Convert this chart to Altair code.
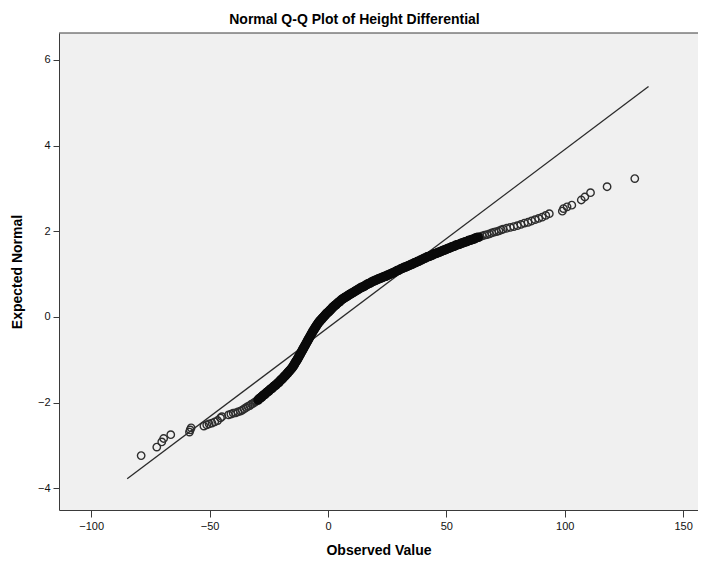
import altair as alt
import pandas as pd

# ---- data ----
lower_obs = [-78.9, -72.3, -70.2, -69.4, -66.4, -58.5, -58.2, -57.8, -52.4, -51.2, -50.2,
             -49.0, -47.8, -46.6, -45.4, -44.8, -42.0, -41.0, -40.0, -39.0, -38.0]
lower_exp = [-3.24, -3.04, -2.92, -2.84, -2.75, -2.69, -2.64, -2.59, -2.55, -2.52, -2.50,
             -2.48, -2.45, -2.42, -2.36, -2.33, -2.29, -2.27, -2.25, -2.24, -2.22]

segA_obs = [-37.0, -36.2, -35.4, -34.6, -33.8, -33.0, -32.3, -31.6, -30.9, -30.2]
segA_exp = [-2.20, -2.18, -2.15, -2.12, -2.09, -2.07, -2.04, -2.02, -1.99, -1.97]

segB_obs = [-29.5, -29.0, -28.5, -28.0, -27.5, -27.0, -26.5, -26.0, -25.5, -25.0,
            -24.5, -24.0, -23.5, -23.0, -22.5, -22.0, -21.5, -21.0]
segB_exp = [-1.94, -1.91, -1.89, -1.87, -1.84, -1.82, -1.80, -1.77, -1.75, -1.73,
            -1.70, -1.68, -1.66, -1.63, -1.61, -1.59, -1.56, -1.54]

segC_obs = [-20.6, -20.2, -19.8, -19.4, -19.0, -18.6, -18.2, -17.8, -17.4, -17.0, -16.6,
            -16.2, -15.8, -15.4, -15.0, -14.7, -14.4, -14.1, -13.8, -13.5, -13.2]
segC_exp = [-1.52, -1.49, -1.47, -1.45, -1.43, -1.40, -1.38, -1.36, -1.33, -1.31, -1.28,
            -1.26, -1.23, -1.21, -1.18, -1.15, -1.13, -1.10, -1.07, -1.04, -1.02]

segD_obs = [-12.9, -12.6, -12.3, -12.0, -11.7, -11.4, -11.1, -10.8, -10.5, -10.2,
            -9.9, -9.6, -9.3, -9.0, -8.7, -8.4, -8.1, -7.8, -7.5, -7.2,
            -6.9, -6.6, -6.3, -6.0, -5.7, -5.4, -5.1, -4.8, -4.5, -4.2,
            -3.9, -3.6, -3.3, -3.0]
segD_exp = [-0.99, -0.96, -0.93, -0.90, -0.87, -0.84, -0.81, -0.78, -0.75, -0.72,
            -0.69, -0.66, -0.63, -0.60, -0.57, -0.54, -0.51, -0.48, -0.45, -0.42,
            -0.39, -0.36, -0.33, -0.31, -0.28, -0.25, -0.23, -0.20, -0.18, -0.15,
            -0.13, -0.11, -0.09, -0.07]

segE_obs = [-2.6, -2.2, -1.8, -1.4, -1.0, -0.6, -0.2, 0.2, 0.6, 1.0, 1.4, 1.8, 2.2, 2.6, 3.0,
            3.5, 4.0, 4.5, 5.0, 5.5, 6.0, 6.5, 7.0, 7.5, 8.0, 8.5, 9.0, 9.5, 10.0]
segE_exp = [-0.05, -0.02, 0.00, 0.03, 0.05, 0.08, 0.10, 0.11, 0.14, 0.16, 0.18, 0.21, 0.23, 0.25, 0.27,
            0.29, 0.32, 0.34, 0.36, 0.39, 0.41, 0.43, 0.45, 0.46, 0.48, 0.50, 0.52, 0.53, 0.55]

segF_obs = [10.6, 11.2, 11.8, 12.4, 13.0, 13.6, 14.2, 14.8, 15.4, 16.0, 16.6,
            17.2, 17.8, 18.4, 19.0, 19.6, 20.2, 20.8, 21.4, 22.0, 22.6, 23.2,
            23.8, 24.4, 25.0, 25.6, 26.2, 26.8, 27.4, 28.0, 28.6, 29.2, 29.8]
segF_exp = [0.57, 0.59, 0.61, 0.63, 0.65, 0.67, 0.69, 0.70, 0.72, 0.74, 0.76,
            0.78, 0.79, 0.81, 0.83, 0.84, 0.86, 0.87, 0.89, 0.90, 0.91, 0.93,
            0.94, 0.95, 0.97, 0.98, 1.00, 1.01, 1.03, 1.04, 1.06, 1.08, 1.09]

segG_obs = [30.5, 31.1, 31.7, 32.3, 32.9, 33.5, 34.1, 34.7, 35.3, 35.9,
            36.5, 37.1, 37.7, 38.3, 38.9, 39.5, 40.1, 40.7, 41.3, 41.9,
            42.5, 43.1, 43.7, 44.3, 44.9, 45.5, 46.1, 46.7, 47.3, 47.9,
            48.5, 49.1, 49.7, 50.3, 50.9, 51.5, 52.1, 52.7, 53.3, 53.9,
            54.5, 55.1, 55.7, 56.3, 56.9, 57.5, 58.1, 58.7, 59.3, 59.9,
            60.5, 61.1, 61.7, 62.3, 62.9, 63.5]
segG_exp = [1.11, 1.13, 1.14, 1.16, 1.17, 1.18, 1.20, 1.21, 1.23, 1.24,
            1.26, 1.27, 1.29, 1.30, 1.32, 1.33, 1.35, 1.37, 1.38, 1.40,
            1.41, 1.42, 1.44, 1.45, 1.47, 1.48, 1.49, 1.51, 1.52, 1.53,
            1.55, 1.56, 1.57, 1.59, 1.60, 1.61, 1.63, 1.64, 1.65, 1.67,
            1.68, 1.69, 1.70, 1.72, 1.73, 1.74, 1.75, 1.76, 1.78, 1.79,
            1.80, 1.81, 1.82, 1.84, 1.85, 1.86]

segH_obs = [64.2, 65.2, 66.2, 67.2, 68.2, 69.2, 70.2, 71.2, 72.2, 73.2, 74.0]
segH_exp = [1.87, 1.89, 1.91, 1.92, 1.94, 1.96, 1.98, 1.99, 2.01, 2.03, 2.05]

upper_obs = [75.5, 77.0, 78.5, 80.0, 81.5, 83.0, 84.5, 86.0, 87.5, 89.0, 90.5, 92.0, 93.5,
             99.0, 99.5, 101.0, 103.0, 107.0, 108.5, 110.9, 117.9, 129.6]
upper_exp = [2.07, 2.09, 2.11, 2.13, 2.16, 2.19, 2.21, 2.24, 2.27, 2.30, 2.33, 2.37, 2.41,
             2.47, 2.53, 2.57, 2.61, 2.73, 2.80, 2.90, 3.04, 3.23]

line_obs = [-84.8, 135.4]
line_exp = [-3.78, 5.38]

x_ticks = [-100, -50, 0, 50, 100, 150]
y_ticks = [-4, -2, 0, 2, 4, 6]

# ---- build tables ----
# sparser parts of the cloud (individual circles visible)
sparse_obs = lower_obs + segA_obs + segH_obs + upper_obs
sparse_exp = lower_exp + segA_exp + segH_exp + upper_exp
# heavily overplotted core (appears as a solid band)
dense_obs = segB_obs + segC_obs + segD_obs + segE_obs + segF_obs + segG_obs
dense_exp = segB_exp + segC_exp + segD_exp + segE_exp + segF_exp + segG_exp
assert len(sparse_obs) == len(sparse_exp) and len(dense_obs) == len(dense_exp)

sparse = pd.DataFrame({"obs": sparse_obs, "exp": sparse_exp})
dense = pd.DataFrame({"obs": dense_obs, "exp": dense_exp})
ref = pd.DataFrame({"obs": line_obs, "exp": line_exp})

FONT = "Liberation Sans, Arial, sans-serif"
W, H = 639, 477

xscale = alt.Scale(domain=[-113.6, 156.3], nice=False, zero=False)
yscale = alt.Scale(domain=[-4.51, 6.63], nice=False, zero=False)

x_axis = alt.Axis(values=x_ticks, title="Observed Value", grid=False, tickSize=7,
                  tickColor="#3a3a3a", domainColor="#3a3a3a", labelFontSize=11,
                  labelColor="#111111", titleFontSize=14, titleFontWeight="bold",
                  titleColor="#000000", titlePadding=12, labelPadding=3,
                  labelFlush=False, labelOverlap=False, labelFont=FONT, titleFont=FONT)
y_axis = alt.Axis(values=y_ticks, title="Expected Normal", grid=False, tickSize=6,
                  tickColor="#3a3a3a", domainColor="#3a3a3a", labelFontSize=11,
                  labelColor="#111111", titleFontSize=14, titleFontWeight="bold",
                  titleColor="#000000", titlePadding=13, labelPadding=3,
                  labelFlush=False, labelOverlap=False, labelFont=FONT, titleFont=FONT)

refline = alt.Chart(ref).mark_line(color="#2a2a2a", strokeWidth=1.3).encode(
    x=alt.X("obs:Q", scale=xscale, axis=x_axis),
    y=alt.Y("exp:Q", scale=yscale, axis=y_axis),
)

sparse_pts = alt.Chart(sparse).mark_point(
    shape="circle", filled=False, size=55, strokeWidth=1.4, color="#2e2e2e", opacity=1
).encode(
    x=alt.X("obs:Q", scale=xscale),
    y=alt.Y("exp:Q", scale=yscale),
)

dense_pts = alt.Chart(dense).mark_point(
    shape="circle", filled=False, size=50, strokeWidth=2.6, color="#0a0a0a", opacity=1
).encode(
    x=alt.X("obs:Q", scale=xscale),
    y=alt.Y("exp:Q", scale=yscale),
)

top_border = alt.Chart(pd.DataFrame({"k": [0]})).mark_rule(
    color="#3a3a3a", strokeWidth=1
).encode(x=alt.value(0), x2=alt.value(W), y=alt.value(0))

chart = alt.layer(refline, sparse_pts, dense_pts, top_border).properties(
    width=W,
    height=H,
    title=alt.TitleParams(
        "Normal Q-Q Plot of Height Differential", fontSize=14, fontWeight="bold",
        font=FONT, color="#000000", anchor="middle", frame="bounds",
        baseline="alphabetic", offset=10, dy=15,
    ),
    autosize=alt.AutoSizeParams(type="none"),
    padding={"left": 51, "top": 25, "right": 0, "bottom": 47},
    background="white",
).configure_view(stroke=None, fill="#F0F0F0")

chart.save("out.html", embed_options={"renderer": "svg", "actions": False})
